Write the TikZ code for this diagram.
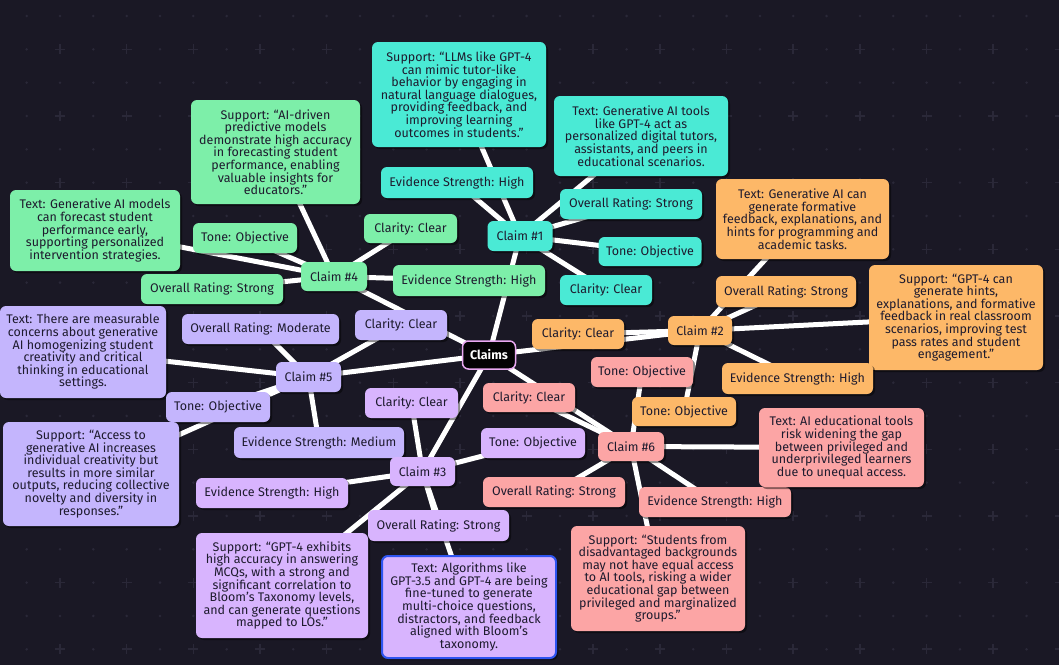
\documentclass[tikz,border=0pt]{standalone}
\usepackage{fontspec}
\setmainfont{Fira Sans}
\usetikzlibrary{shadows}
\definecolor{bgc}{HTML}{1A1825}
\definecolor{gridc}{HTML}{2A2838}
\definecolor{txt}{HTML}{1E1B2E}
\definecolor{cya}{HTML}{4AEAD5}
\definecolor{grn}{HTML}{7DEFA9}
\definecolor{org}{HTML}{FDB868}
\definecolor{pur}{HTML}{C4B5FD}
\definecolor{lil}{HTML}{D8B4FE}
\definecolor{pnk}{HTML}{FCA5A5}
\definecolor{rootb}{HTML}{E9A8F2}
\definecolor{blu}{HTML}{2E54F0}
\pgfdeclarelayer{gridlayer}
\pgfdeclarelayer{edgelayer}
\pgfsetlayers{gridlayer,edgelayer,main}
\tikzset{
  box/.style={rounded corners=6pt, text=txt, align=center, inner sep=0pt,
    font=\fontsize{12.5}{12.6}\selectfont,
    drop shadow={shadow xshift=2pt, shadow yshift=-2pt, opacity=0.45, fill=black}},
  sz/.style 2 args={minimum width=#1, minimum height=#2},
  k1/.style={box, fill=cya},
  k2/.style={box, fill=org},
  k3/.style={box, fill=lil},
  k4/.style={box, fill=grn},
  k5/.style={box, fill=pur},
  k6/.style={box, fill=pnk},
  edge/.style={draw=white, line width=5pt},
}
\begin{document}
\begin{tikzpicture}[x=1pt, y=-1pt]
\useasboundingbox (0,0) rectangle (1059,665);
\begin{pgfonlayer}{gridlayer}
\fill[bgc] (0,0) rectangle (1059,665);
\foreach \i in {0,...,32} {
  \foreach \j in {0,...,20} {
    \pgfmathsetmacro{\xx}{26.67+33.33*\i}
    \pgfmathsetmacro{\yy}{16+33.33*\j}
    \pgfmathtruncatemacro{\isplus}{(mod(\i,2)==1)&&(mod(\j,2)==1)}
    \ifnum\isplus=1
      \draw[gridc, line width=1.6pt] (\xx-5,\yy) -- (\xx+5,\yy) (\xx,\yy-5) -- (\xx,\yy+5);
    \else
      \fill[gridc] (\xx,\yy) circle (1.4);
    \fi
  }
}
\end{pgfonlayer}

% root
\node[rounded corners=6pt, fill=black!90!bgc, draw=rootb, line width=1.5pt, text=white,
  font=\fontsize{12.5}{12.6}\selectfont\bfseries, sz={53pt}{28pt}, inner sep=0pt] (root) at (489,355) {Claims};

% Claim 1
\node[k1, sz={65pt}{30pt}] (c1) at (520,236) {Claim \#1};
\node[k1, sz={174pt}{105pt}] (s1) at (459,94.5) {Support: “LLMs like GPT-4\\can mimic tutor-like\\behavior by engaging in\\natural language dialogues,\\providing feedback, and\\improving learning\\outcomes in students.”};
\node[k1, sz={174pt}{80pt}] (t1) at (641,136) {Text: Generative AI tools\\like GPT-4 act as\\personalized digital tutors,\\assistants, and peers in\\educational scenarios.};
\node[k1, sz={152pt}{31pt}] (e1) at (457,182.5) {Evidence Strength: High};
\node[k1, sz={142pt}{30pt}] (o1) at (631,204) {Overall Rating: Strong};
\node[k1, sz={103pt}{29pt}] (to1) at (650,251.5) {Tone: Objective};
\node[k1, sz={92pt}{30pt}] (cl1) at (606,290) {Clarity: Clear};

% Claim 4
\node[k4, sz={66pt}{29pt}] (c4) at (334,276.5) {Claim \#4};
\node[k4, sz={169pt}{104pt}] (s4) at (275.5,152) {Support: “AI-driven\\predictive models\\demonstrate high accuracy\\in forecasting student\\performance, enabling\\valuable insights for\\educators.”};
\node[k4, sz={170pt}{81pt}] (t4) at (95,230.5) {Text: Generative AI models\\can forecast student\\performance early,\\supporting personalized\\intervention strategies.};
\node[k4, sz={104pt}{30pt}] (to4) at (245,238) {Tone: Objective};
\node[k4, sz={142pt}{30pt}] (o4) at (212,289) {Overall Rating: Strong};
\node[k4, sz={93pt}{29pt}] (cl4) at (410.5,228.5) {Clarity: Clear};
\node[k4, sz={152pt}{31pt}] (e4) at (469,280.5) {Evidence Strength: High};

% Claim 5
\node[k5, sz={65pt}{30pt}] (c5) at (308.5,377) {Claim \#5};
\node[k5, sz={166pt}{92pt}] (t5) at (83,352) {Text: There are measurable\\concerns about generative\\AI homogenizing student\\creativity and critical\\thinking in educational\\settings.};
\node[k5, sz={157pt}{30pt}] (o5) at (260.5,329) {Overall Rating: Moderate};
\node[k5, sz={92pt}{30pt}] (cl5) at (401,325) {Clarity: Clear};
\node[k5, sz={104pt}{30pt}] (to5) at (218,407) {Tone: Objective};
\node[k5, sz={176pt}{104pt}] (s5) at (91,474) {Support: “Access to\\generative AI increases\\individual creativity but\\results in more similar\\outputs, reducing collective\\novelty and diversity in\\responses.”};
\node[k5, sz={170pt}{31pt}] (e5) at (319,442.5) {Evidence Strength: Medium};

% Claim 3
\node[k3, sz={65pt}{29pt}] (c3) at (422.5,471.5) {Claim \#3};
\node[k3, sz={93pt}{30pt}] (cl3) at (411.5,403) {Clarity: Clear};
\node[k3, sz={152pt}{30pt}] (e3) at (272,493) {Evidence Strength: High};
\node[k3, sz={141pt}{31pt}] (o3) at (438.5,525.5) {Overall Rating: Strong};
\node[k3, sz={104pt}{30pt}] (to3) at (533,443) {Tone: Objective};
\node[k3, sz={172pt}{105pt}] (s3) at (282,585.5) {Support: “GPT-4 exhibits\\high accuracy in answering\\MCQs, with a strong and\\significant correlation to\\Bloom’s Taxonomy levels,\\and can generate questions\\mapped to LOs.”};
\node[k3, sz={174pt}{102pt}, draw=blu, line width=2pt] (t3) at (469,607) {Text: Algorithms like\\GPT-3.5 and GPT-4 are being\\fine-tuned to generate\\multi-choice questions,\\distractors, and feedback\\aligned with Bloom’s\\taxonomy.};

% Claim 2
\node[k2, sz={64pt}{29pt}] (c2) at (700,330.5) {Claim \#2};
\node[k2, sz={173pt}{80pt}] (t2) at (802.5,219) {Text: Generative AI can\\generate formative\\feedback, explanations, and\\hints for programming and\\academic tasks.};
\node[k2, sz={140pt}{31pt}] (o2) at (786,291.5) {Overall Rating: Strong};
\node[k2, sz={174pt}{105pt}] (s2) at (956,317.5) {Support: “GPT-4 can\\generate hints,\\explanations, and formative\\feedback in real classroom\\scenarios, improving test\\pass rates and student\\engagement.”};
\node[k2, sz={92pt}{30pt}] (cl2) at (578,334) {Clarity: Clear};
\node[k2, sz={151pt}{31pt}] (e2) at (797.5,378.5) {Evidence Strength: High};
\node[k2, sz={104pt}{29pt}] (to2) at (684,411.5) {Tone: Objective};

% Claim 6
\node[k6, sz={66pt}{29pt}] (c6) at (631,446.5) {Claim \#6};
\node[k6, sz={102pt}{30pt}] (to6) at (642,372) {Tone: Objective};
\node[k6, sz={92pt}{29pt}] (cl6) at (529,397.5) {Clarity: Clear};
\node[k6, sz={142pt}{30pt}] (o6) at (554,492) {Overall Rating: Strong};
\node[k6, sz={152pt}{30pt}] (e6) at (715,502) {Evidence Strength: High};
\node[k6, sz={165pt}{79pt}] (t6) at (841.5,447.5) {Text: AI educational tools\\risk widening the gap\\between privileged and\\underprivileged learners\\due to unequal access.};
\node[k6, sz={174pt}{105pt}] (s6) at (658,578.5) {Support: “Students from\\disadvantaged backgrounds\\may not have equal access\\to AI tools, risking a wider\\educational gap between\\privileged and marginalized\\groups.”};

\begin{pgfonlayer}{edgelayer}
\foreach \a/\b in {root/c1,root/c2,root/c3,root/c4,root/c5,root/c6,
  c1/s1,c1/t1,c1/e1,c1/o1,c1/to1,c1/cl1,
  c4/s4,c4/t4,c4/to4,c4/o4,c4/cl4,c4/e4,
  c5/t5,c5/o5,c5/cl5,c5/to5,c5/s5,c5/e5,
  c3/cl3,c3/e3,c3/o3,c3/to3,c3/s3,c3/t3,
  c2/t2,c2/o2,c2/s2,c2/cl2,c2/e2,c2/to2,
  c6/to6,c6/cl6,c6/o6,c6/e6,c6/t6,c6/s6}
  \draw[edge] (\a.center) -- (\b.center);
\end{pgfonlayer}
\end{tikzpicture}
\end{document}
